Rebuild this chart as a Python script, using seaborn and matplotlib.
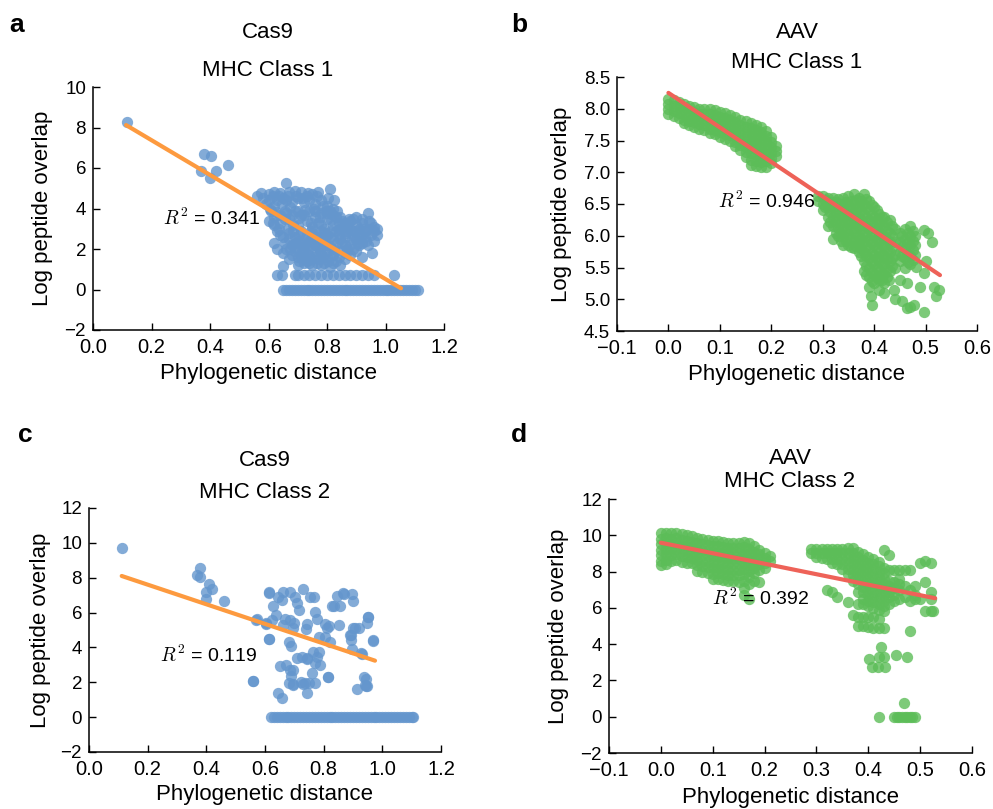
import matplotlib
matplotlib.use("Agg")
import matplotlib.pyplot as plt
import seaborn as sns
import pandas as pd

# ------------------------------------------------------------------ data
# Panel a : Cas9, MHC class 1
a_outliers_x = [0.115, 0.38, 0.405, 0.46, 0.37, 0.42, 0.40]
a_outliers_y = [8.25, 6.7, 6.6, 6.15, 5.85, 5.85, 5.5]
a_cloud = [
    (0.56, 4.6), (0.575, 4.75), (0.60, 4.7), (0.62, 4.8), (0.64, 4.75), (0.66, 5.25),
    (0.67, 4.8), (0.69, 4.85), (0.71, 4.8), (0.73, 4.6), (0.75, 4.7), (0.77, 4.8),
    (0.81, 4.95), (0.63, 4.4), (0.65, 4.5), (0.68, 4.3), (0.70, 4.5), (0.72, 4.3),
    (0.74, 4.4), (0.76, 4.2), (0.78, 4.4), (0.80, 4.1), (0.82, 4.0),
    (0.61, 3.9), (0.62, 3.6), (0.64, 3.3), (0.66, 3.8), (0.67, 3.5), (0.69, 3.9),
    (0.70, 3.2), (0.71, 3.7), (0.73, 3.4), (0.74, 3.9), (0.75, 3.1), (0.76, 3.6),
    (0.77, 3.3), (0.78, 3.8), (0.79, 3.0), (0.80, 3.5), (0.81, 3.9), (0.82, 3.2),
    (0.83, 3.6), (0.84, 3.0), (0.86, 3.3), (0.87, 3.1), (0.88, 3.4), (0.89, 3.5),
    (0.90, 3.2), (0.91, 3.0), (0.92, 3.3), (0.94, 3.8), (0.96, 3.1), (0.97, 3.0),
    (0.85, 3.4), (0.62, 2.3), (0.63, 2.9), (0.65, 2.6), (0.67, 2.8), (0.68, 2.2),
    (0.69, 2.6), (0.70, 2.4), (0.71, 2.9), (0.72, 2.1), (0.73, 2.7), (0.74, 2.4),
    (0.75, 2.8), (0.76, 2.2), (0.77, 2.6), (0.78, 2.9), (0.79, 2.3), (0.80, 2.7),
    (0.81, 2.1), (0.82, 2.5), (0.84, 2.8), (0.85, 2.3), (0.86, 2.6), (0.87, 2.9),
    (0.88, 2.2), (0.89, 2.7), (0.90, 2.5), (0.91, 2.8), (0.92, 2.3), (0.93, 2.6),
    (0.95, 2.7), (0.94, 2.2), (0.96, 2.4), (0.65, 1.8), (0.65, 1.15), (0.67, 1.5),
    (0.69, 1.9), (0.70, 1.2), (0.71, 1.6), (0.72, 1.9), (0.73, 1.4), (0.74, 1.7),
    (0.75, 1.2), (0.76, 1.9), (0.77, 1.5), (0.78, 1.8), (0.79, 1.3), (0.80, 1.6),
    (0.81, 1.1), (0.82, 1.7), (0.83, 1.4), (0.85, 1.9), (0.86, 1.5), (0.88, 1.7),
    (0.90, 1.9), (0.955, 1.8), (0.92, 1.6),
    (0.60, 4.4), (0.62, 4.1), (0.64, 3.7), (0.66, 4.4), (0.68, 3.7), (0.70, 3.9),
    (0.72, 3.7), (0.76, 3.9), (0.78, 3.2), (0.80, 3.8), (0.82, 3.7), (0.84, 3.3),
    (0.83, 2.9), (0.81, 2.6), (0.79, 2.6), (0.77, 2.1), (0.75, 2.5), (0.73, 2.2),
    (0.71, 2.3), (0.69, 2.3), (0.67, 2.5), (0.64, 2.7), (0.66, 2.0), (0.68, 1.7),
    (0.70, 1.6), (0.72, 1.3), (0.74, 1.3), (0.76, 1.6), (0.78, 1.2), (0.80, 1.9),
    (0.82, 1.3), (0.84, 1.6), (0.87, 2.0), (0.89, 2.0), (0.91, 2.2), (0.93, 2.9),
    (0.95, 3.3), (0.90, 3.6), (0.88, 3.0), (0.86, 2.2), (0.92, 3.5), (0.94, 3.0),
    (0.96, 2.9), (0.97, 2.7), (0.62, 3.2), (0.63, 2.0), (0.60, 3.4), (0.58, 4.5),
    (0.59, 4.2),
    (0.605, 4.0), (0.615, 4.6), (0.625, 3.85), (0.635, 4.6), (0.645, 4.2), (0.655, 3.5),
    (0.665, 4.6), (0.675, 4.05), (0.685, 3.2), (0.695, 4.6), (0.705, 3.55), (0.715, 4.5),
    (0.725, 3.95), (0.735, 4.75), (0.745, 3.3), (0.755, 4.0), (0.765, 4.6), (0.775, 3.6),
    (0.785, 4.1), (0.795, 3.9), (0.805, 4.5), (0.815, 3.45), (0.825, 4.4), (0.835, 3.9),
    (0.845, 3.6), (0.855, 3.1), (0.865, 2.8), (0.875, 3.5), (0.885, 2.5), (0.895, 2.9),
    (0.905, 2.3), (0.915, 2.6), (0.925, 3.0), (0.935, 2.4), (0.945, 3.4), (0.655, 2.3),
    (0.665, 3.0), (0.675, 2.0), (0.685, 2.9), (0.695, 2.1), (0.705, 2.7), (0.715, 1.9),
    (0.725, 2.5), (0.735, 2.0), (0.745, 2.9), (0.755, 2.3), (0.765, 2.7), (0.775, 1.9),
    (0.785, 2.4), (0.795, 2.8), (0.805, 2.2), (0.815, 2.9), (0.825, 2.0), (0.835, 2.3),
    (0.845, 2.5), (0.705, 1.4), (0.725, 1.6), (0.745, 1.5), (0.765, 1.3), (0.785, 1.6),
    (0.805, 1.4), (0.825, 1.9), (0.845, 1.2), (0.865, 1.8), (0.655, 3.9), (0.615, 3.3),
    (0.635, 3.0),
]
a_row07_x = [0.63, 0.645, 0.69, 0.70, 0.72, 0.74, 0.76, 0.78, 0.80, 0.82, 0.84,
             0.86, 0.88, 0.90, 0.92, 0.94, 0.96, 1.03]
a_row07_y = 0.7
a_zero_x = [0.65, 0.66, 0.67, 0.68, 0.69, 0.70, 0.71, 0.72, 0.73, 0.74, 0.75, 0.76,
            0.77, 0.78, 0.79, 0.80, 0.81, 0.82, 0.83, 0.84, 0.85, 0.86, 0.87, 0.88,
            0.89, 0.90, 0.91, 0.92, 0.93, 0.94, 0.95, 0.96, 0.97, 0.98, 0.99, 1.00,
            1.01, 1.02, 1.03, 1.04, 1.05, 1.06, 1.07, 1.08, 1.09, 1.10, 1.11]
a_fit_x = [0.113, 1.053]
a_fit_y = [8.12, 0.06]
a_r2 = "0.341"

# Panel b : AAV, MHC class 1  (columns: x -> list of y)
b_cluster1 = {
    0.00: [8.15, 8.07, 7.99, 7.92], 0.01: [8.13, 8.05, 7.97, 7.89],
    0.02: [8.1, 8.02, 7.94, 7.86], 0.03: [8.07, 7.99, 7.91, 7.83, 7.77],
    0.04: [8.05, 7.97, 7.89, 7.81, 7.74], 0.05: [8.03, 7.95, 7.87, 7.79, 7.71],
    0.06: [8.0, 7.92, 7.84, 7.76, 7.68], 0.07: [7.99, 7.91, 7.83, 7.75, 7.67],
    0.08: [8.0, 7.92, 7.84, 7.76, 7.68, 7.62], 0.09: [7.98, 7.9, 7.82, 7.74, 7.66, 7.6],
    0.10: [7.95, 7.87, 7.79, 7.71, 7.63, 7.56], 0.11: [7.93, 7.85, 7.77, 7.69, 7.61, 7.53],
    0.12: [7.9, 7.82, 7.74, 7.66, 7.58, 7.5],
    0.13: [7.87, 7.79, 7.71, 7.63, 7.55, 7.47, 7.42],
    0.14: [7.83, 7.75, 7.67, 7.59, 7.51, 7.43, 7.35],
    0.15: [7.8, 7.72, 7.64, 7.56, 7.48, 7.4, 7.32, 7.24],
    0.16: [7.78, 7.7, 7.62, 7.54, 7.46, 7.38, 7.3, 7.2, 7.12],
    0.17: [7.75, 7.67, 7.59, 7.51, 7.43, 7.35, 7.27, 7.18, 7.1],
    0.18: [7.72, 7.64, 7.56, 7.48, 7.4, 7.32, 7.24, 7.16, 7.08],
    0.19: [7.65, 7.57, 7.49, 7.41, 7.33, 7.25, 7.17, 7.08],
    0.20: [7.55, 7.47, 7.39, 7.31, 7.23, 7.15], 0.21: [7.42, 7.34, 7.26],
}
b_cluster2 = {
    0.29: [6.62, 6.55], 0.30: [6.62, 6.5, 6.4], 0.31: [6.6, 6.45, 6.3, 6.15],
    0.32: [6.6, 6.45, 6.3, 6.15, 5.95], 0.33: [6.58, 6.42, 6.28, 6.12, 6.0],
    0.34: [6.6, 6.45, 6.3, 6.15, 6.0, 5.85], 0.35: [6.62, 6.48, 6.33, 6.18, 6.02, 5.85],
    0.36: [6.65, 6.5, 6.35, 6.2, 6.05, 5.9, 5.8],
    0.37: [6.6, 6.45, 6.3, 6.15, 6.0, 5.88, 5.75],
    0.38: [6.65, 6.5, 6.35, 6.2, 6.05, 5.9, 5.75, 5.6, 5.45],
    0.39: [6.55, 6.4, 6.25, 6.1, 5.95, 5.8, 5.65, 5.5, 5.35, 5.2],
    0.40: [6.45, 6.3, 6.15, 6.0, 5.85, 5.7, 5.55, 5.4, 5.25],
    0.41: [6.35, 6.2, 6.05, 5.9, 5.75, 5.6, 5.45, 5.3],
    0.42: [6.3, 6.15, 6.0, 5.85, 5.7, 5.55, 5.4, 5.25],
    0.43: [6.25, 6.05, 5.9, 5.75, 5.6, 5.45], 0.44: [6.1, 5.9, 5.7, 5.5],
    0.45: [6.05, 5.9, 5.75, 5.6], 0.46: [6.1, 5.95, 5.8, 5.65, 5.5],
    0.47: [6.15, 6.0, 5.85, 5.7, 5.55], 0.48: [6.0, 5.85, 5.7],
}
b_cluster2_fill = {
    0.305: [6.56, 6.45], 0.315: [6.53, 6.38, 6.22], 0.325: [6.53, 6.38, 6.22, 6.05],
    0.335: [6.5, 6.35, 6.2, 6.05, 5.92], 0.345: [6.53, 6.38, 6.22, 6.08, 5.92],
    0.355: [6.55, 6.4, 6.25, 6.1, 5.95, 5.82], 0.365: [6.57, 6.42, 6.27, 6.12, 5.97, 5.84],
    0.375: [6.55, 6.4, 6.25, 6.1, 5.95, 5.8, 5.68],
    0.385: [6.58, 6.43, 6.28, 6.13, 5.98, 5.83, 5.68, 5.53, 5.38],
    0.395: [6.48, 6.33, 6.18, 6.03, 5.88, 5.73, 5.58, 5.43, 5.28],
    0.405: [6.4, 6.25, 6.1, 5.95, 5.8, 5.65, 5.5, 5.35],
    0.415: [6.3, 6.15, 6.0, 5.85, 5.7, 5.55, 5.4, 5.3],
    0.425: [6.22, 6.08, 5.93, 5.78, 5.63, 5.48, 5.35],
    0.435: [6.15, 6.0, 5.82, 5.65, 5.52], 0.455: [6.0, 5.82, 5.68],
    0.465: [6.05, 5.88, 5.72, 5.58], 0.475: [6.08, 5.92, 5.78, 5.62],
}
b_scatter_x = [0.497, 0.513, 0.505, 0.516, 0.526, 0.52, 0.497, 0.455, 0.464, 0.477,
               0.47, 0.396, 0.393, 0.41, 0.428, 0.438, 0.45, 0.464, 0.481, 0.497,
               0.50, 0.49, 0.44, 0.42]
b_scatter_y = [6.09, 5.9, 6.05, 5.2, 5.15, 5.05, 4.8, 4.98, 4.86, 4.91,
               4.88, 4.91, 5.05, 5.15, 5.3, 5.15, 5.3, 5.25, 5.51, 5.41,
               5.6, 5.2, 5.0, 5.1]
b_fit_x = [0.0, 0.528]
b_fit_y = [8.25, 5.38]
b_r2 = "0.946"

# Panel c : Cas9, MHC class 2
c_points = [
    (0.114, 9.73), (0.38, 8.58), (0.369, 8.16), (0.378, 8.06), (0.41, 7.64),
    (0.418, 7.33), (0.40, 7.2), (0.398, 6.78), (0.46, 6.66), (0.571, 5.6),
    (0.605, 5.37), (0.56, 2.05), (0.614, 4.47), (0.614, 7.14),
    (0.615, 7.16), (0.660, 7.2), (0.685, 7.2), (0.731, 7.34), (0.645, 6.91),
    (0.657, 6.72), (0.702, 6.91), (0.708, 6.53), (0.717, 6.15), (0.753, 6.91),
    (0.767, 6.88), (0.628, 6.38), (0.638, 5.86), (0.624, 5.57), (0.572, 5.61),
    (0.603, 5.38), (0.668, 5.61), (0.685, 5.57), (0.699, 5.42), (0.662, 5.29),
    (0.696, 5.1), (0.742, 5.34), (0.740, 5.04), (0.771, 6.05), (0.778, 5.61),
    (0.805, 5.34), (0.819, 5.23), (0.813, 5.1), (0.853, 5.29), (0.845, 6.95),
    (0.869, 7.07), (0.896, 7.07), (0.899, 6.68), (0.827, 6.38), (0.856, 6.38),
    (0.615, 4.47), (0.683, 4.33), (0.688, 4.08), (0.785, 4.58), (0.805, 4.58),
    (0.822, 4.33), (0.893, 4.71), (0.893, 4.43), (0.907, 5.1), (0.922, 5.1),
    (0.950, 5.76), (0.947, 5.42), (0.967, 4.43), (0.896, 3.89), (0.926, 3.70),
    (0.708, 3.38), (0.725, 3.47), (0.742, 3.38), (0.785, 3.76), (0.778, 3.47),
    (0.771, 3.09), (0.788, 3.0), (0.759, 2.52), (0.651, 2.94), (0.672, 3.0),
    (0.697, 2.71), (0.688, 2.36), (0.683, 1.98), (0.697, 1.85), (0.722, 2.03),
    (0.736, 1.98), (0.751, 1.98), (0.771, 1.98), (0.744, 1.4), (0.815, 2.32),
    (0.558, 2.07), (0.645, 1.4), (0.657, 1.08), (0.913, 1.6), (0.941, 1.85),
    (0.938, 2.32), (0.947, 1.79), (0.764, 3.74), (0.742, 3.32), (0.816, 2.3),
    (0.836, 6.39), (0.867, 7.1), (0.891, 4.7), (0.93, 3.65), (0.946, 2.2),
    (0.969, 4.36), (0.952, 5.76), (0.901, 5.09), (0.685, 2.69), (0.696, 1.92),
    (0.944, 1.79), (0.73, 1.92),
]
c_zero_x = [0.62, 0.63, 0.64, 0.65, 0.66, 0.67, 0.68, 0.69, 0.70, 0.71, 0.72, 0.73,
            0.74, 0.75, 0.76, 0.77, 0.78, 0.79, 0.80, 0.81, 0.82, 0.83, 0.84, 0.85,
            0.86, 0.87, 0.88, 0.89, 0.90, 0.91, 0.92, 0.93, 0.94, 0.95, 0.96, 0.97,
            0.98, 0.99, 1.00, 1.01, 1.02, 1.03, 1.04, 1.05, 1.06, 1.07, 1.08, 1.09,
            1.10, 1.105]
c_fit_x = [0.1115, 0.975]
c_fit_y = [8.10, 3.24]
c_r2 = "0.119"

# Panel d : AAV, MHC class 2
d_cluster1 = {
    0.00: [10.1, 9.8, 9.5, 9.2, 8.9, 8.6, 8.35], 0.01: [10.15, 9.85, 9.55, 9.25, 8.95, 8.65, 8.4],
    0.02: [10.1, 9.8, 9.5, 9.2, 8.9, 8.6], 0.03: [10.15, 9.85, 9.55, 9.25, 8.95, 8.65],
    0.04: [10.05, 9.75, 9.45, 9.15, 8.85, 8.55], 0.05: [10.0, 9.7, 9.4, 9.1, 8.8, 8.5],
    0.06: [9.95, 9.65, 9.35, 9.05, 8.75, 8.45], 0.07: [9.85, 9.55, 9.25, 8.95, 8.65, 8.35, 8.05],
    0.08: [9.8, 9.5, 9.2, 8.9, 8.6, 8.3, 7.95], 0.09: [9.75, 9.45, 9.15, 8.85, 8.55, 8.25, 7.9],
    0.10: [9.7, 9.4, 9.1, 8.8, 8.5, 8.2, 7.85, 7.6], 0.11: [9.7, 9.4, 9.1, 8.8, 8.5, 8.2, 7.9, 7.6],
    0.12: [9.65, 9.35, 9.05, 8.75, 8.45, 8.15, 7.85, 7.55],
    0.13: [9.6, 9.3, 9.0, 8.7, 8.4, 8.1, 7.8, 7.5],
    0.14: [9.6, 9.3, 9.0, 8.7, 8.4, 8.1, 7.8, 7.5],
    0.15: [9.6, 9.3, 9.0, 8.7, 8.4, 8.1, 7.8, 7.45],
    0.16: [9.65, 9.35, 9.05, 8.75, 8.45, 8.15, 7.85, 7.5, 7.1, 6.7],
    0.17: [9.55, 9.25, 8.95, 8.65, 8.35, 8.05, 7.7, 7.3, 6.5],
    0.18: [9.4, 9.1, 8.8, 8.5, 8.2, 7.9, 7.5], 0.19: [9.2, 8.95, 8.7, 8.4, 8.1, 7.4],
    0.20: [9.0, 8.75, 8.5, 8.2], 0.21: [8.85, 8.6],
}
d_cluster2 = {
    0.29: [9.25, 9.0], 0.30: [9.25, 9.0, 8.8], 0.31: [9.25, 9.0, 8.75],
    0.32: [9.25, 9.0, 8.7, 7.0], 0.33: [9.25, 9.0, 8.7, 8.45, 6.9],
    0.34: [9.25, 9.0, 8.7, 8.4, 6.6], 0.35: [9.25, 9.0, 8.7, 8.4, 8.15],
    0.36: [9.3, 9.05, 8.75, 8.45, 8.15, 7.85, 6.3],
    0.37: [9.3, 9.0, 8.7, 8.4, 8.1, 7.8, 7.5, 5.6],
    0.38: [9.1, 8.8, 8.5, 8.2, 7.9, 7.6, 7.3, 6.9, 6.2, 5.5, 5.0],
    0.39: [8.95, 8.65, 8.35, 8.05, 7.75, 7.45, 7.15, 6.85, 6.5, 6.2, 5.5, 5.0],
    0.40: [8.8, 8.5, 8.2, 7.9, 7.6, 7.3, 7.0, 6.7, 6.4, 6.1, 5.5, 4.95],
    0.41: [8.7, 8.4, 8.1, 7.8, 7.5, 7.2, 6.9, 6.6, 6.3, 6.0, 5.5, 4.9],
    0.42: [8.55, 8.3, 8.0, 7.7, 7.4, 7.1, 6.8, 6.5, 6.2, 5.9, 5.4, 4.9],
    0.43: [9.2, 8.2, 7.9, 7.6, 7.3, 7.0, 6.7, 6.4, 6.1, 5.8, 4.9],
    0.44: [8.9, 8.1, 7.5, 7.2, 6.9, 6.6, 6.2], 0.45: [8.1, 7.4, 7.1, 6.7, 6.4],
    0.46: [8.1, 7.6, 7.3, 7.0, 6.5], 0.47: [8.1, 7.2, 6.6], 0.48: [8.1, 7.0, 6.4, 4.7],
    0.49: [7.2, 6.7, 6.5], 0.50: [8.5, 6.5], 0.51: [8.6, 7.4, 5.8],
    0.52: [8.45, 6.9, 5.8, 6.5], 0.525: [5.8],
}
d_low_x = [0.402, 0.408, 0.418, 0.42, 0.424, 0.433, 0.43, 0.454, 0.475, 0.468,
           0.421, 0.45, 0.455, 0.46, 0.465, 0.47, 0.475, 0.48, 0.485, 0.49]
d_low_y = [3.2, 2.75, 2.75, 3.3, 3.85, 2.75, 3.3, 3.39, 3.3, 0.73,
           0.0, 0.0, 0.0, 0.0, 0.0, 0.0, 0.0, 0.0, 0.0, 0.0]
d_fit_x = [0.0, 0.529]
d_fit_y = [9.59, 6.53]
d_r2 = "0.392"


def cols_to_xy(*col_dicts):
    xs, ys = [], []
    for cols in col_dicts:
        for x, yl in cols.items():
            for y in yl:
                xs.append(x)
                ys.append(y)
    return xs, ys


# assemble per-panel frames
ax_x = a_outliers_x + [p[0] for p in a_cloud] + a_row07_x + a_zero_x
ax_y = (a_outliers_y + [p[1] for p in a_cloud] + [a_row07_y] * len(a_row07_x)
        + [0.0] * len(a_zero_x))
df_a = pd.DataFrame({"x": ax_x, "y": ax_y})

bx, by = cols_to_xy(b_cluster1, b_cluster2, b_cluster2_fill)
df_b = pd.DataFrame({"x": bx + b_scatter_x, "y": by + b_scatter_y})

df_c = pd.DataFrame({"x": [p[0] for p in c_points] + c_zero_x,
                     "y": [p[1] for p in c_points] + [0.0] * len(c_zero_x)})

dx, dy = cols_to_xy(d_cluster1, d_cluster2)
df_d = pd.DataFrame({"x": dx + d_low_x, "y": dy + d_low_y})

# ------------------------------------------------------------------ style
sns.set_style("ticks")
plt.rcParams['font.family'] = ['Liberation Sans', 'DejaVu Sans']
plt.rcParams['mathtext.fontset'] = 'cm'
plt.rcParams.update({
    'xtick.direction': 'in', 'ytick.direction': 'in',
    'xtick.major.size': 5, 'ytick.major.size': 5,
    'xtick.major.width': 1.0, 'ytick.major.width': 1.0,
    'axes.linewidth': 1.1, 'axes.edgecolor': 'black',
    'xtick.color': 'black', 'ytick.color': 'black',
    'text.color': 'black', 'axes.labelcolor': 'black',
})

W, H = 993, 809
fig = plt.figure(figsize=(W / 100, H / 100), dpi=100)


def rect(l, r, t, b):
    return [l / W, 1 - b / H, (r - l) / W, (b - t) / H]


BLUE = '#6496cd'
GREEN = '#5cbd58'
ORANGE = '#fd9a3f'
RED = '#ee6258'

panels = [
    dict(df=df_a, rect=rect(93, 444, 87, 330), pc=BLUE, lc=ORANGE, fx=a_fit_x, fy=a_fit_y,
         r2=a_r2, txt=(0.24, 3.53), xlim=(0.0, 1.2), xt=[0.0, 0.2, 0.4, 0.6, 0.8, 1.0, 1.2],
         ylim=(-2, 10), yt=[-2, 0, 2, 4, 6, 8, 10], yfmt="{:.0f}", xfmt="{:.1f}",
         ylab=-0.1425, xlab=-0.177,
         title=[("Cas9", 268, 33), ("MHC Class 1", 268, 71)], letter=("a", 17, 25)),
    dict(df=df_b, rect=rect(617, 977, 77, 331), pc=GREEN, lc=RED, fx=b_fit_x, fy=b_fit_y,
         r2=b_r2, txt=(0.096, 6.54), xlim=(-0.1, 0.6),
         xt=[-0.1, 0.0, 0.1, 0.2, 0.3, 0.4, 0.5, 0.6],
         ylim=(4.5, 8.5), yt=[4.5, 5.0, 5.5, 6.0, 6.5, 7.0, 7.5, 8.0, 8.5],
         yfmt="{:.1f}", xfmt="{:.1f}", ylab=-0.153, xlab=-0.173,
         title=[("AAV", 797, 33), ("MHC Class 1", 797, 62)], letter=("b", 519, 25)),
    dict(df=df_c, rect=rect(89, 441, 508, 752), pc=BLUE, lc=ORANGE, fx=c_fit_x, fy=c_fit_y,
         r2=c_r2, txt=(0.242, 3.57), xlim=(0.0, 1.2), xt=[0.0, 0.2, 0.4, 0.6, 0.8, 1.0, 1.2],
         ylim=(-2, 12), yt=[-2, 0, 2, 4, 6, 8, 10, 12], yfmt="{:.0f}", xfmt="{:.1f}",
         ylab=-0.139, xlab=-0.176,
         title=[("Cas9", 265, 460), ("MHC Class 2", 265, 492)], letter=("c", 25, 435)),
    dict(df=df_d, rect=rect(609, 972, 499, 753), pc=GREEN, lc=RED, fx=d_fit_x, fy=d_fit_y,
         r2=d_r2, txt=(0.098, 6.53), xlim=(-0.1, 0.6),
         xt=[-0.1, 0.0, 0.1, 0.2, 0.3, 0.4, 0.5, 0.6],
         ylim=(-2, 12), yt=[-2, 0, 2, 4, 6, 8, 10, 12], yfmt="{:.0f}", xfmt="{:.1f}",
         ylab=-0.140, xlab=-0.177,
         title=[("AAV", 790, 458), ("MHC Class 2", 790, 482)], letter=("d", 519, 435)),
]

for p in panels:
    ax = fig.add_axes(p["rect"])
    sns.scatterplot(data=p["df"], x="x", y="y", ax=ax, color=p["pc"], s=66,
                    alpha=0.8, linewidth=0, zorder=2)
    fit = pd.DataFrame({"x": p["fx"], "y": p["fy"]})
    sns.lineplot(data=fit, x="x", y="y", ax=ax, color=p["lc"], linewidth=3.0,
                 estimator=None, sort=False, zorder=3)
    ax.set_xlim(*p["xlim"])
    ax.set_ylim(*p["ylim"])
    ax.set_xticks(p["xt"])
    ax.set_yticks(p["yt"])
    ax.set_xticklabels([p["xfmt"].format(v).replace("-", "\u2212") for v in p["xt"]])
    ax.set_yticklabels([p["yfmt"].format(v).replace("-", "\u2212") for v in p["yt"]])
    ax.tick_params(axis="x", labelsize=14.5, pad=6)
    ax.tick_params(axis="y", labelsize=13.5, pad=5)
    ax.set_xlabel("Phylogenetic distance", fontsize=16)
    ax.set_ylabel("Log peptide overlap", fontsize=16)
    ax.xaxis.label.set_va("center")
    ax.yaxis.label.set_va("center")
    ax.xaxis.set_label_coords(0.5, p["xlab"])
    ax.yaxis.set_label_coords(p["ylab"], 0.5)
    sns.despine(ax=ax)
    ax.text(p["txt"][0], p["txt"][1], r"$R^2$ = " + p["r2"], fontsize=14,
            ha="left", va="center", zorder=4)
    for t, px, py in p["title"]:
        fig.text(px / W, 1 - py / H, t, fontsize=16, ha="center", va="center")
    l, px, py = p["letter"]
    fig.text(px / W, 1 - py / H, l, fontsize=19, fontweight="bold",
             ha="center", va="center")

fig.savefig("out.png", dpi=100)
